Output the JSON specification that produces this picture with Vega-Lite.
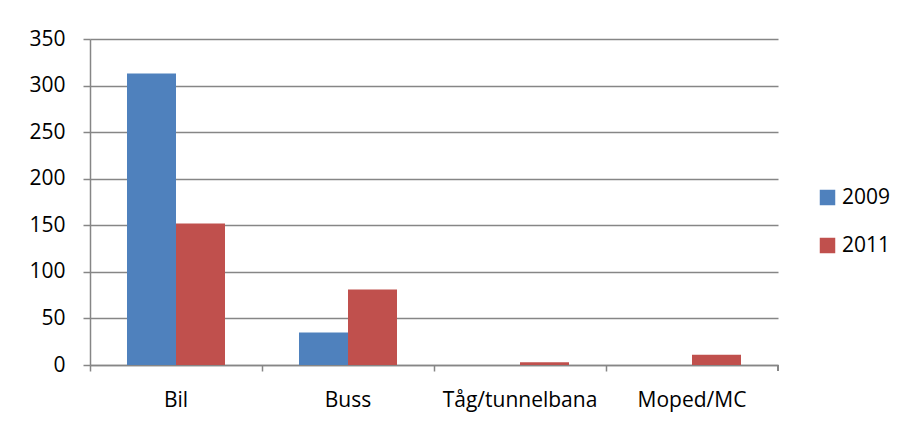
{
  "$schema": "https://vega.github.io/schema/vega-lite/v6.json",
  "width": 688,
  "height": 326,
  "autosize": {"type": "none"},
  "padding": {"left": 90, "top": 39, "right": 126, "bottom": 60},
  "background": "white",
  "config": {
    "font": "Open Sans",
    "view": {"stroke": null},
    "axis": {
      "labelFont": "Open Sans",
      "labelFontSize": 21,
      "labelColor": "#000000",
      "domainColor": "#868686",
      "tickColor": "#868686",
      "gridColor": "#868686",
      "domainWidth": 1.5,
      "tickWidth": 1.5,
      "gridWidth": 1.5
    }
  },
  "data": {
    "values": [
      {"mode": "Bil", "year": "2009", "count": 313},
      {"mode": "Bil", "year": "2011", "count": 152},
      {"mode": "Buss", "year": "2009", "count": 35},
      {"mode": "Buss", "year": "2011", "count": 81},
      {"mode": "Tåg/tunnelbana", "year": "2009", "count": 0},
      {"mode": "Tåg/tunnelbana", "year": "2011", "count": 3},
      {"mode": "Moped/MC", "year": "2009", "count": 0},
      {"mode": "Moped/MC", "year": "2011", "count": 11}
    ]
  },
  "layer": [
    {
      "mark": {"type": "bar"},
      "encoding": {
        "x": {
          "field": "mode",
          "type": "nominal",
          "sort": null,
          "title": null,
          "scale": {"paddingInner": 0, "paddingOuter": 0},
          "axis": {
            "labelAngle": 0,
            "bandPosition": 0,
            "tickSize": 6,
            "labelPadding": 18,
            "domain": true
          }
        },
        "xOffset": {
          "field": "year",
          "type": "nominal",
          "scale": {"paddingInner": 0, "paddingOuter": 0.755}
        },
        "y": {
          "field": "count",
          "type": "quantitative",
          "title": null,
          "scale": {"domain": [0, 350], "nice": false},
          "axis": {
            "values": [0, 50, 100, 150, 200, 250, 300, 350],
            "tickSize": 7,
            "labelPadding": 18,
            "grid": true
          }
        },
        "color": {
          "field": "year",
          "type": "nominal",
          "title": null,
          "scale": {"domain": ["2009", "2011"], "range": ["#4F81BD", "#C0504D"]},
          "legend": {
            "orient": "none",
            "legendX": 727,
            "legendY": 148,
            "symbolType": "square",
            "symbolSize": 240,
            "symbolStrokeWidth": 0,
            "labelFontSize": 21,
            "labelFont": "Open Sans",
            "labelColor": "#000000",
            "labelOffset": 4,
            "rowPadding": 26
          }
        }
      }
    },
    {
      "mark": {"type": "rule", "color": "#868686", "strokeWidth": 1.5, "y2Offset": 6, "clip": false},
      "encoding": {
        "x": {"datum": "Moped/MC", "bandPosition": 1},
        "y": {"datum": 0},
        "y2": {"datum": 0}
      }
    }
  ]
}
